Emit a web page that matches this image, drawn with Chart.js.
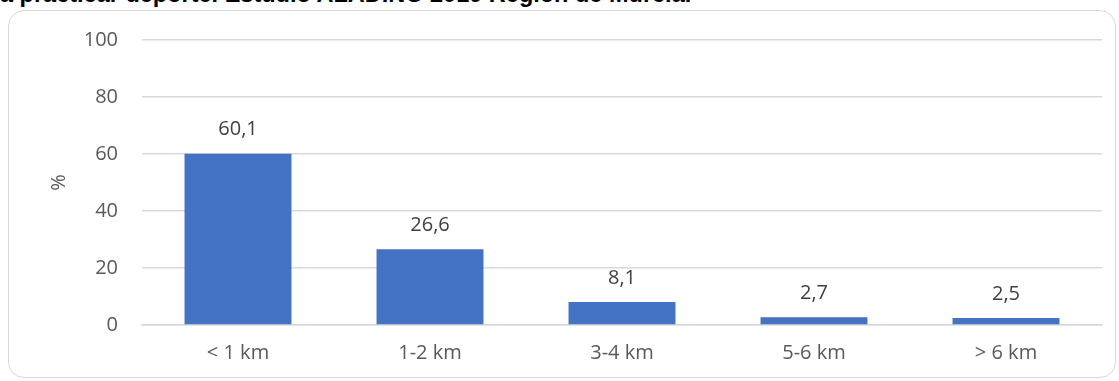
<!DOCTYPE html>
<html>
<head>
<meta charset="utf-8">
<script src="https://cdn.jsdelivr.net/npm/chart.js@4.4.1/dist/chart.umd.min.js"></script>
<style>
    body { margin: 0; background: #fff; }
    #wrap { position: relative; width: 1119px; height: 381px; overflow: hidden; }
    #titulo {
        position: absolute; left: 0; top: -19px;
        font: bold 23.5px "Liberation Sans", Arial, sans-serif;
        color: #000; white-space: nowrap;
    }
    #marco {
        position: absolute; left: 8px; top: 10px; width: 1108px; height: 368px;
        border: 1.5px solid #d9d9d9; border-radius: 16px; box-sizing: border-box;
    }
    #grafico { position: absolute; left: 0; top: 0; }
</style>
</head>
<body>
<div id="wrap">
    <div id="titulo">a practicar deporte. Estudio ALADINO 2019 Región de Murcia.</div>
    <div id="marco"></div>
    <canvas id="grafico" width="1119" height="381"></canvas>
</div>
<script>
// distancia hasta el lugar donde practica deporte
const distancias = ['< 1 km', '1-2 km', '3-4 km', '5-6 km', '> 6 km'];
const porcentajes = [60.1, 26.6, 8.1, 2.7, 2.5];
const ticksY = [0, 20, 40, 60, 80, 100];

const fuente = '"Open Sans", "Liberation Sans", sans-serif';

// etiquetas de valor encima de cada barra
const etiquetasValor = {
    id: 'etiquetasValor',
    afterDatasetsDraw(chart) {
        const ctx = chart.ctx;
        const meta = chart.getDatasetMeta(0);
        ctx.save();
        ctx.font = '20px ' + fuente;
        ctx.fillStyle = '#404040';
        ctx.textAlign = 'center';
        ctx.textBaseline = 'middle';
        meta.data.forEach((bar, i) => {
            const txt = porcentajes[i].toFixed(1).replace('.', ',');
            ctx.fillText(txt, bar.x, bar.y - 24);
        });
        ctx.restore();
    }
};

const ctx = document.getElementById('grafico').getContext('2d');
new Chart(ctx, {
    type: 'bar',
    data: {
        labels: distancias,
        datasets: [{
            data: porcentajes,
            backgroundColor: '#4472c4',
            categoryPercentage: 1,
            barPercentage: 0.557
        }]
    },
    options: {
        responsive: false,
        animation: false,
        layout: { padding: { left: 42, right: 17, top: 40, bottom: 0 } },
        plugins: { legend: { display: false }, tooltip: { enabled: false } },
        scales: {
            x: {
                grid: { display: false, drawTicks: false },
                border: { color: '#d9d9d9', width: 1.5 },
                ticks: { color: '#595959', font: { family: fuente, size: 20 }, padding: 16 },
                afterFit: s => { s.height = 56; }
            },
            y: {
                min: 0, max: 100,
                afterBuildTicks: s => { s.ticks = ticksY.map(v => ({ value: v })); },
                grid: { color: '#d9d9d9', lineWidth: 1.5, drawTicks: false },
                border: { display: false },
                ticks: { color: '#595959', font: { family: fuente, size: 20 }, padding: 24 },
                title: {
                    display: true, text: '%', color: '#595959',
                    font: { family: fuente, size: 20 }, padding: { top: 5, bottom: 0 }
                },
                afterFit: s => { s.width = 100; }
            }
        }
    },
    plugins: [etiquetasValor]
});
</script>
</body>
</html>
